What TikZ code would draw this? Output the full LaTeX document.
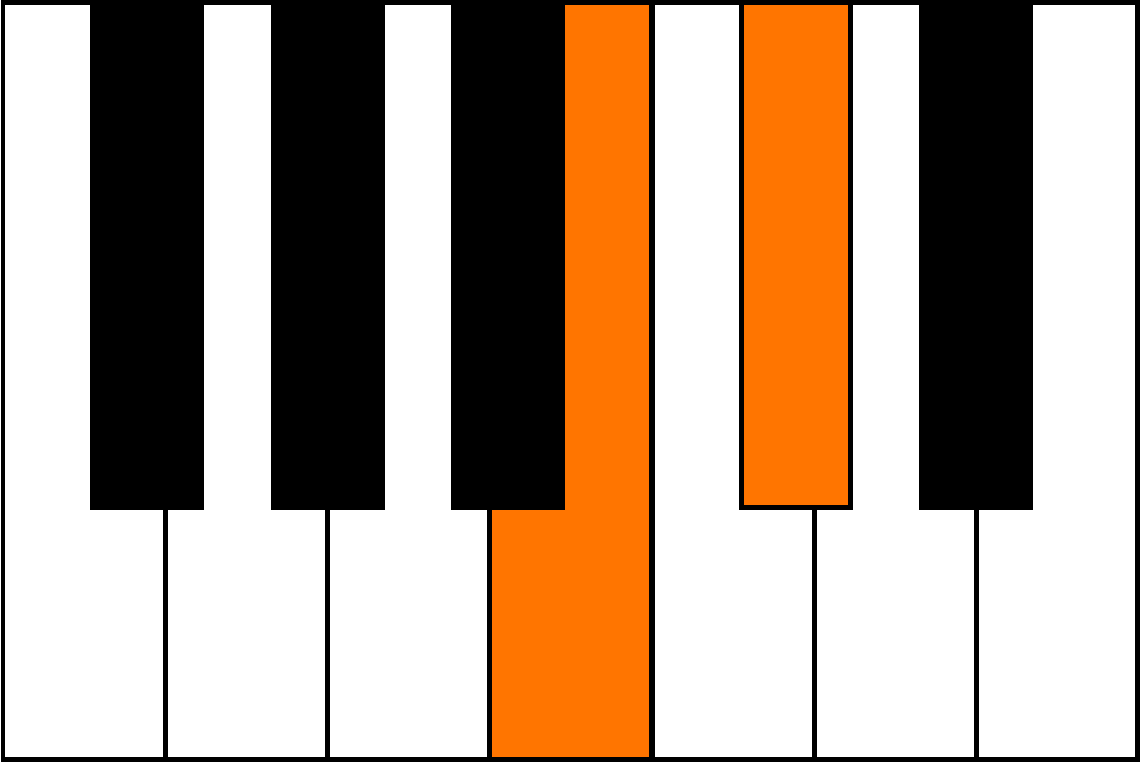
\documentclass[tikz,border=0pt]{standalone}
\definecolor{keyorange}{RGB}{255,117,0}
\begin{document}
\begin{tikzpicture}[x=0.1mm,y=-0.1mm,line width=0.5mm,line join=miter,
  whitekey/.style={fill=white,draw=black},
  blackkey/.style={fill=black},
  hitkey/.style={fill=keyorange,draw=black}]
\useasboundingbox (0,0) rectangle (1140,762);

% bílé klávesy
\foreach \i in {0,...,6}
  \draw[whitekey] ({3+162.3*\i},3) rectangle ({min(1137,165.3+162.3*\i)},759);
\draw[hitkey] (489.6,3) rectangle (651.9,759);

% černé klávesy
\foreach \x in {90,271,451,919}
  \fill[blackkey] (\x,3) rectangle ({\x+113.5},510);
\draw[hitkey] (741.5,3) rectangle (850.5,507.5);

% rám
\draw (3,3) rectangle (1137,759);
\end{tikzpicture}
\end{document}
